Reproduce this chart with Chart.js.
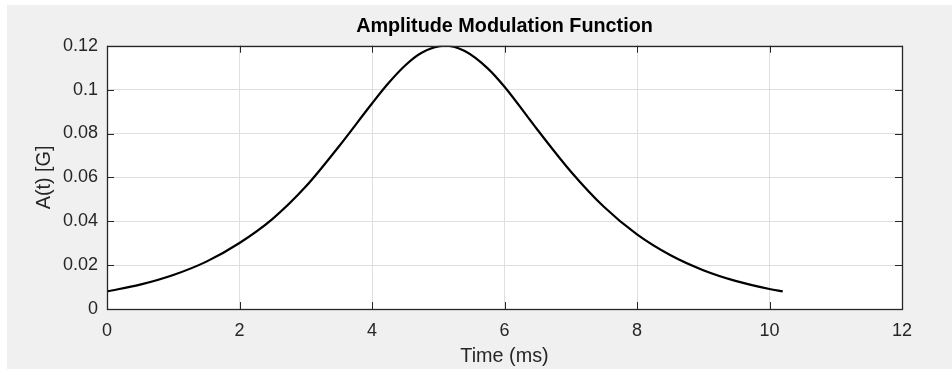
<!DOCTYPE html>
<html>
<head>
<meta charset="utf-8">
<script src="https://cdn.jsdelivr.net/npm/chart.js@4.4.1/dist/chart.umd.min.js"></script>
<style>
  body { margin: 0; background: #ffffff; }
  #wrap { position: relative; width: 952px; height: 369px; }
  #panel { position: absolute; left: 7px; top: 5px; width: 945px; height: 364px; background: #f0f0f0; }
  #myChart { position: absolute; left: 0; top: 0; }
</style>
</head>
<body>
<div id="wrap">
  <div id="panel"></div>
  <canvas id="myChart" width="952" height="369"></canvas>
</div>
<script>
// values
var timeMs = [0, 0.5, 1, 1.5, 2, 2.5, 3, 3.5, 4, 4.25, 4.5, 4.75, 5.1, 5.4, 5.75, 6,
              6.5, 7, 7.5, 8, 8.5, 9, 9.5, 10, 10.2];
var amplitude = [0.0080, 0.0111, 0.0155, 0.0216, 0.0301, 0.0411, 0.0558, 0.0741, 0.0937, 0.1030,
                 0.1110, 0.1168, 0.1200, 0.1176, 0.1096, 0.1013,
                 0.0816, 0.0627, 0.0466, 0.0340, 0.0246, 0.0177, 0.0127, 0.0091, 0.0080];
var xTicks = [0, 2, 4, 6, 8, 10, 12];
var yTicks = [0, 0.02, 0.04, 0.06, 0.08, 0.1, 0.12];

var chartTitle = 'Amplitude Modulation Function';
var xTitle = 'Time (ms)';
var yTitle = 'A(t) [G]';

var fontFamily = '"Liberation Sans", Arial, Helvetica, sans-serif';
var axisColor = '#262626';

window.onload = function() {

    var points = []
    for (var i = 0; i < timeMs.length; i++) {
        points.push({x: timeMs[i], y: amplitude[i]})
    }

    // white plot area under everything
    var plotBackground = {
        id: 'plotBackground',
        beforeDraw: function(chart) {
            var a = chart.chartArea;
            var ctx = chart.ctx;
            ctx.save();
            ctx.fillStyle = '#ffffff';
            ctx.fillRect(a.left, a.top, a.right - a.left, a.bottom - a.top);
            ctx.restore();
        }
    }

    // matlab style box with inward ticks on all sides
    var axesBox = {
        id: 'axesBox',
        afterDraw: function(chart) {
            var a = chart.chartArea;
            var ctx = chart.ctx;
            var xs = chart.scales.x;
            var ys = chart.scales.y;
            var len = 7;
            ctx.save();
            ctx.strokeStyle = axisColor;
            ctx.lineWidth = 1;
            ctx.beginPath();
            xTicks.forEach(function(v) {
                var px = Math.round(xs.getPixelForValue(v)) + 0.5;
                ctx.moveTo(px, a.bottom);
                ctx.lineTo(px, a.bottom - len);
                ctx.moveTo(px, a.top);
                ctx.lineTo(px, a.top + len);
            });
            yTicks.forEach(function(v) {
                var py = Math.round(ys.getPixelForValue(v)) + 0.5;
                ctx.moveTo(a.left, py);
                ctx.lineTo(a.left + len, py);
                ctx.moveTo(a.right, py);
                ctx.lineTo(a.right - len, py);
            });
            ctx.stroke();
            ctx.lineWidth = 1.3;
            ctx.strokeRect(Math.round(a.left) + 0.5, Math.round(a.top) + 0.5,
                Math.round(a.right - a.left), Math.round(a.bottom - a.top));
            ctx.restore();
        }
    }

    var ctx = document.getElementById('myChart');
    var myChart = new Chart(ctx, {
        type: 'line',
        data: {
            datasets: [{
                data: points,
                borderColor: '#000000',
                borderWidth: 2.2,
                pointRadius: 0,
                fill: false,
                cubicInterpolationMode: 'monotone'
            }]
        },
        options: {
            responsive: false,
            animation: false,
            layout: {
                padding: {left: 0, right: 50, top: 0, bottom: 0}
            },
            plugins: {
                legend: {display: false},
                tooltip: {enabled: false},
                title: {
                    display: true,
                    text: chartTitle,
                    fullSize: false,
                    color: '#000000',
                    font: {family: fontFamily, size: 19.8, weight: 'bold'},
                    padding: {top: 15, bottom: 7}
                }
            },
            scales: {
                x: {
                    type: 'linear',
                    min: 0,
                    max: 12,
                    afterFit: function(scale) { scale.height = 60; },
                    afterBuildTicks: function(scale) {
                        scale.ticks = xTicks.map(function(v) { return {value: v}; });
                    },
                    ticks: {
                        color: axisColor,
                        font: {family: fontFamily, size: 18},
                        padding: 11,
                        maxRotation: 0,
                        callback: function(v) { return String(v); }
                    },
                    grid: {color: '#dfdfdf', drawTicks: false},
                    border: {display: false},
                    title: {
                        display: true,
                        text: xTitle,
                        color: axisColor,
                        font: {family: fontFamily, size: 19.8},
                        padding: {top: 0, bottom: 1}
                    }
                },
                y: {
                    type: 'linear',
                    min: 0,
                    max: 0.12,
                    afterFit: function(scale) { scale.width = 107; },
                    afterBuildTicks: function(scale) {
                        scale.ticks = yTicks.map(function(v) { return {value: v}; });
                    },
                    ticks: {
                        color: axisColor,
                        font: {family: fontFamily, size: 18},
                        padding: 9,
                        callback: function(v) { return String(parseFloat(v.toFixed(2))); }
                    },
                    grid: {color: '#dfdfdf', drawTicks: false},
                    border: {display: false},
                    title: {
                        display: true,
                        text: yTitle,
                        color: axisColor,
                        font: {family: fontFamily, size: 19.8},
                        padding: {top: 33, bottom: 0}
                    }
                }
            }
        },
        plugins: [plotBackground, axesBox]
    });
}
</script>
</body>
</html>
